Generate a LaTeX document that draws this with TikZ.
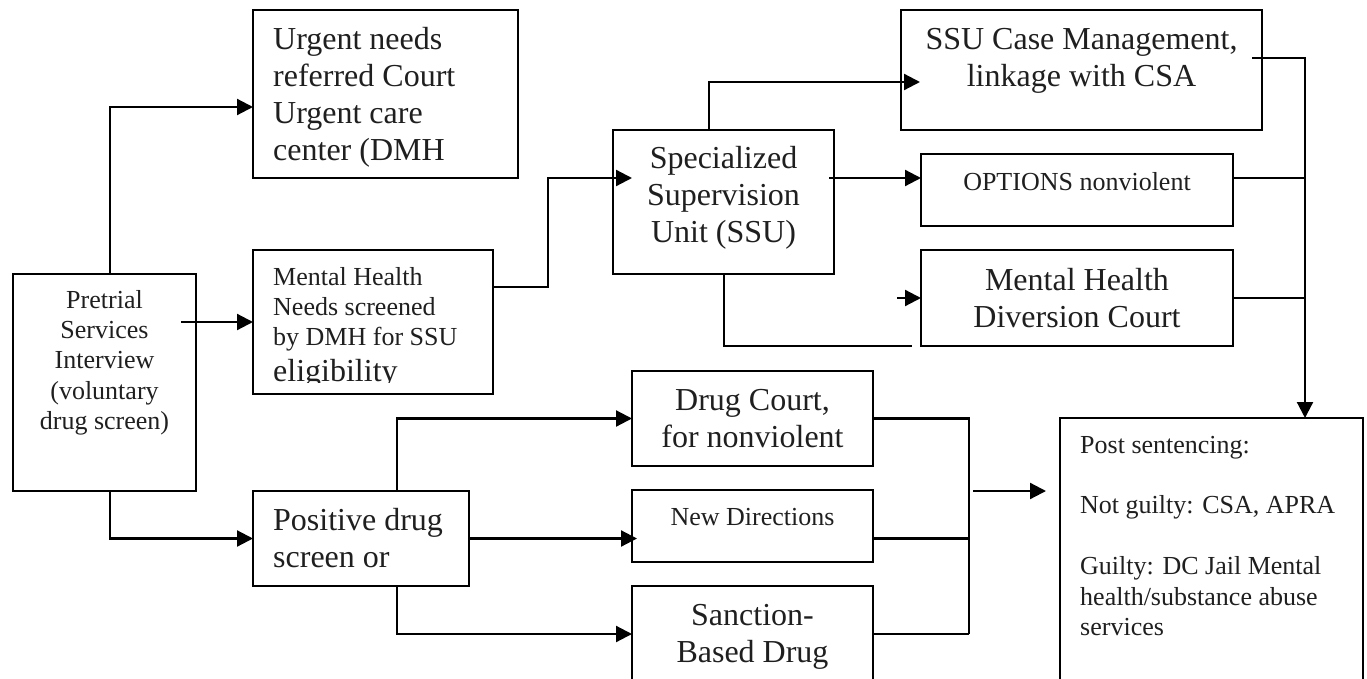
\documentclass[tikz,border=0pt]{standalone}
\usepackage{fontspec}
\setmainfont{Liberation Serif}
\usetikzlibrary{arrows.meta,calc}

% type sizes used in the boxes
\newcommand\largetxt{\fontsize{32}{37}\selectfont}
\newcommand\smalltxt{\fontsize{26}{30.4}\selectfont}
% several lines, first baseline on the node's base
\newcommand\ml[2]{\begin{tabular}[t]{@{}#1@{}}#2\end{tabular}}
% a named rectangle given by its corners (name, x1, y1, x2, y2)
\newcommand\boxnode[5]{\node[box, minimum width={(#4-#2)*1pt}, minimum height={(#5-#3)*1pt}] (#1) at ({(#2+#4)/2},{(#3+#5)/2}) {};}

\begin{document}
\begin{tikzpicture}[x=1pt,y=-1pt,
  box/.style={draw, line width=2.2pt, inner sep=0pt, outer sep=0pt},
  wire/.style={line width=2.2pt},
  arr/.style={wire, -{Triangle[length=16pt,width=16pt]}},
  txt/.style={inner sep=0pt, anchor=base, text=black!88},
  txtl/.style={inner sep=0pt, anchor=base west, text=black!88}]

\clip (0,0) rectangle (1367,679);

% boxes
\boxnode{PT}{13}{274}{196}{491}
\boxnode{UR}{253}{10}{518}{178}
\boxnode{MHN}{253}{250}{493}{394}
\boxnode{SSU}{613}{130}{834}{274}
\boxnode{SCM}{901}{10}{1262}{130}
\boxnode{OPT}{921}{154}{1233}{226}
\boxnode{MHD}{921}{250}{1233}{346}
\boxnode{PD}{253}{491}{469}{586}
\boxnode{DC}{632}{371}{873}{466}
\boxnode{ND}{632}{490}{873}{562}
\boxnode{SB}{632}{586}{873}{720}
\boxnode{PS}{1060}{418}{1363}{720}

% box texts
\node[txt] (tPT) at (104.5,308) {\smalltxt\ml{c}{Pretrial\\Services\\Interview\\(voluntary\\drug screen)}};
\node[txtl] (tUR) at (273,50) {\largetxt\ml{l}{Urgent needs\\referred Court\\Urgent care\\center (DMH}};
\begin{scope}
  \clip (253,250) rectangle (493,382);
  \node[txtl] (tMHN) at (273,285) {\smalltxt\ml{l}{Mental Health\\Needs screened\\by DMH for SSU}};
  \node[txtl] (tMHN2) at (273,381) {\largetxt eligibility};
\end{scope}
\node[txt] (tSSU) at (723.5,168) {\largetxt\ml{c}{Specialized\\Supervision\\Unit (SSU)}};
\node[txt] (tSCM) at (1081.5,50) {\largetxt\ml{c}{SSU Case Management,\\linkage with CSA}};
\node[txt] (tOPT) at (1077,190) {\smalltxt OPTIONS nonviolent};
\node[txt] (tMHD) at (1077,290) {\largetxt\ml{c}{Mental Health\\Diversion Court}};
\node[txt] (tDC) at (752.5,410) {\largetxt\ml{c}{Drug Court,\\for nonviolent}};
\node[txt] (tND) at (752.5,525) {\smalltxt New Directions};
\node[txt] (tSB) at (752.5,625) {\largetxt\ml{c}{Sanction-\\Based Drug}};
\node[txtl] (tPD) at (273,530) {\largetxt\ml{l}{Positive drug\\screen or}};
\node[txtl] (tPS) at (1080,453) {\smalltxt\ml{l}{Post sentencing:\\ \\Not guilty: CSA, APRA\\ \\Guilty: DC Jail Mental\\health/substance abuse\\services}};

% collecting lines
\coordinate (busR) at (1305,0);
\coordinate (busL) at (969,0);

% from the interview
\draw[arr] (PT.north -| 110,0) |- (UR.west |- 0,107);
\draw[arr] ($(PT.east |- MHN.west)+(-15,0)$) -- (MHN.west);
\draw[arr] (PT.south -| 110,0) |- (PD.west);

% mental health branch
\draw[arr] (MHN.east |- 0,287) -- ++(55,0) |- ($(SSU.west |- 0,178)+(19,0)$);
\draw[arr] (SSU.north -| 709,0) |- ($(SCM.west |- 0,82)+(19,0)$);
\draw[arr] ($(SSU.east |- 0,178)+(-5,0)$) -- (OPT.west |- 0,178);
\draw[wire] (SSU.south -| 724,0) |- ($(MHD.south west)+(-9,0)$);
\draw[arr] ($(MHD.west)+(-24,0)$) -- (MHD.west);
\draw[arr] ($(SCM.east |- 0,58)+(-10,0)$) -| (PS.north -| busR);
\draw[wire] (OPT.east |- 0,178) -- (busR |- 0,178);
\draw[wire] (MHD.east) -- (MHD.east -| busR);

% drug branch
\draw[arr] (PD.north -| 397,0) |- (DC.west);
\draw[arr] (PD.east) -- ($(ND.west |- PD.east)+(5,0)$);
\draw[arr] (PD.south -| 397,0) |- (SB.west |- 0,634);
\draw[wire] (DC.east) -- (DC.east -| busL) -- (busL |- 0,634);
\draw[wire] (ND.east |- PD.east) -- (busL |- PD.east);
\draw[wire] (SB.east |- 0,634) -- (busL |- 0,634);
\draw[arr] ($(busL |- 0,491)+(4,0)$) -- ($(PS.west |- 0,491)+(-14,0)$);

\end{tikzpicture}
\end{document}
